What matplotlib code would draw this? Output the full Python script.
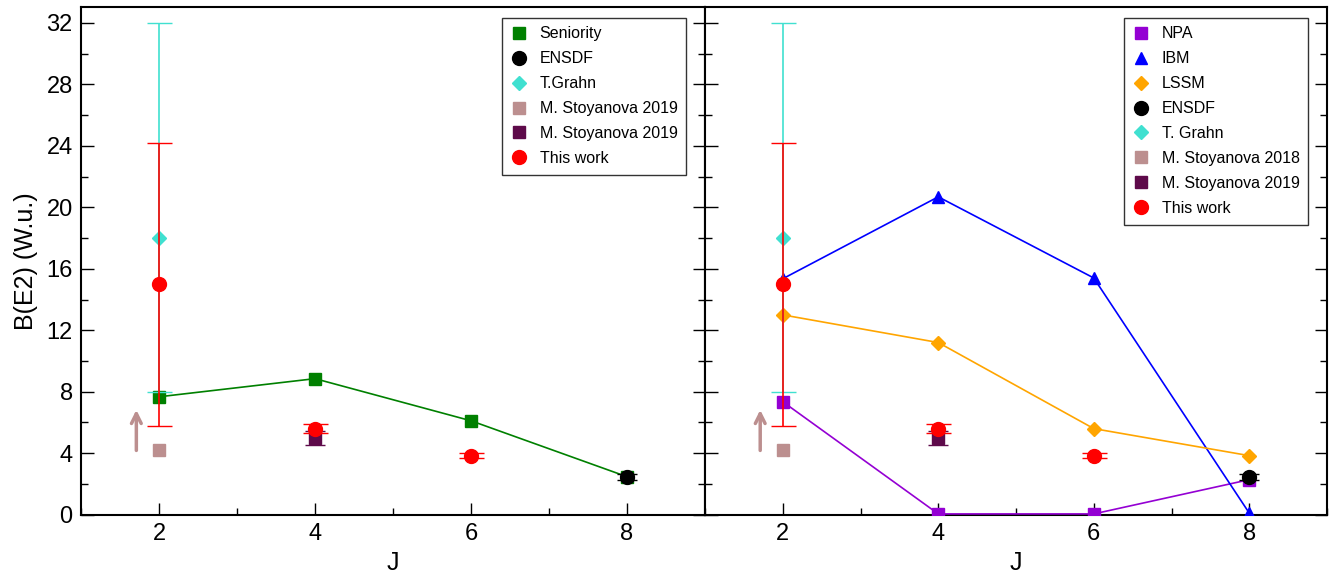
import matplotlib.pyplot as plt
from matplotlib.lines import Line2D
from matplotlib.ticker import MultipleLocator

plt.rcParams['font.family'] = ['Liberation Sans', 'DejaVu Sans']

# spins of the yrast states
J = [2, 4, 6, 8]

# calculations
seniority = [7.67, 8.85, 6.11, 2.47]
npa = [7.35, 0.05, 0.05, 2.28]
ibm = [15.35, 20.68, 15.4, 0.1]
lssm = [13.0, 11.2, 5.6, 3.84]

# experimental values
ensdf_J = [8]
ensdf = [2.47]
ensdf_err = [0.2]

grahn_J = [2]
grahn = [18.0]
grahn_lo = [10.0]
grahn_hi = [14.0]

stoy18_J = [2]
stoy18 = [4.23]
stoy18_arrow = [4.0, 7.0]  # lower limit arrow

stoy19_J = [4]
stoy19 = [5.0]
stoy19_err = [0.45]

this_J = [2, 4, 6]
this_work = [15.0, 5.6, 3.84]
this_err = [9.2, 0.3, 0.15]

c_sen = '#008000'
c_grahn = '#40E0D0'
c_s18 = '#BC8F8F'
c_s19 = '#5E0A4A'
c_npa = '#9400D3'
c_ibm = '#0000FF'
c_lssm = '#FFA500'
c_this = '#FF0000'


def common(ax):
    ax.errorbar(ensdf_J, ensdf, yerr=ensdf_err, fmt='o', color='black', ms=10,
                capsize=7, elinewidth=1.2, zorder=5)
    ax.errorbar(grahn_J, grahn, yerr=[grahn_lo, grahn_hi], fmt='D', color=c_grahn,
                ms=7, capsize=9, elinewidth=1.2, zorder=3)
    ax.plot(stoy18_J, stoy18, 's', color=c_s18, ms=8, zorder=3)
    ax.annotate('', xy=(1.71, stoy18_arrow[1]), xytext=(1.71, stoy18_arrow[0]),
                arrowprops=dict(arrowstyle='->,head_width=0.35,head_length=0.7',
                                color=c_s18, lw=2.5))
    ax.errorbar(stoy19_J, stoy19, yerr=stoy19_err, fmt='s', color=c_s19, ms=9,
                capsize=7, elinewidth=1.2, zorder=4)
    ax.errorbar(this_J, this_work, yerr=this_err, fmt='o', color=c_this, ms=10,
                capsize=9, elinewidth=1.2, zorder=6)


def h(marker, color, label, ms=8):
    return Line2D([], [], ls='none', marker=marker, color=color, ms=ms, label=label)


fig = plt.figure(figsize=(13.36, 5.75), dpi=100)
ax1 = fig.add_axes([0.0606, 0.1049, 0.4671, 0.8821])
ax2 = fig.add_axes([0.5277, 0.1049, 0.4656, 0.8821])

# left panel: seniority scheme
ax1.plot(J, seniority, 's-', color=c_sen, ms=8, lw=1.2, zorder=3)
common(ax1)
handles1 = [h('s', c_sen, 'Seniority'), h('o', 'black', 'ENSDF', 10),
            h('D', c_grahn, 'T.Grahn', 7), h('s', c_s18, 'M. Stoyanova 2019'),
            h('s', c_s19, 'M. Stoyanova 2019'), h('o', c_this, 'This work', 10)]

# right panel: NPA, IBM and LSSM
ax2.plot(J, npa, 's-', color=c_npa, ms=8, lw=1.2, zorder=3)
ax2.plot(J, ibm, '^-', color=c_ibm, ms=9, lw=1.2, zorder=3)
ax2.plot(J, lssm, 'D-', color=c_lssm, ms=7, lw=1.2, zorder=3)
common(ax2)
handles2 = [h('s', c_npa, 'NPA'), h('^', c_ibm, 'IBM', 9), h('D', c_lssm, 'LSSM', 7),
            h('o', 'black', 'ENSDF', 10), h('D', c_grahn, 'T. Grahn', 7),
            h('s', c_s18, 'M. Stoyanova 2018'), h('s', c_s19, 'M. Stoyanova 2019'),
            h('o', c_this, 'This work', 10)]

for ax, handles in ((ax1, handles1), (ax2, handles2)):
    ax.set_xlim(1, 9)
    ax.set_ylim(0, 33)
    ax.xaxis.set_major_locator(MultipleLocator(2))
    ax.xaxis.set_minor_locator(MultipleLocator(1))
    ax.yaxis.set_major_locator(MultipleLocator(4))
    ax.yaxis.set_minor_locator(MultipleLocator(2))
    ax.tick_params(which='both', direction='in', top=False, right=True, labelsize=17)
    ax.tick_params(which='major', length=9, width=1, pad=6)
    ax.tick_params(which='minor', length=5, width=1)
    for s in ax.spines.values():
        s.set_linewidth(1.5)
    ax.set_xlabel('J', fontsize=18, labelpad=4)
    leg = ax.legend(handles=handles, loc='upper right', bbox_to_anchor=(0.97, 0.98),
                    fontsize=11.5, frameon=True, fancybox=False, edgecolor='black',
                    handlelength=1.0, handletextpad=0.8, borderpad=0.55,
                    labelspacing=0.62, borderaxespad=0)
    leg.get_frame().set_linewidth(1.0)

ax1.set_ylabel('B(E2) (W.u.)', fontsize=18, labelpad=6)
ax2.tick_params(labelleft=False)

fig.savefig('out.png', dpi=100)
